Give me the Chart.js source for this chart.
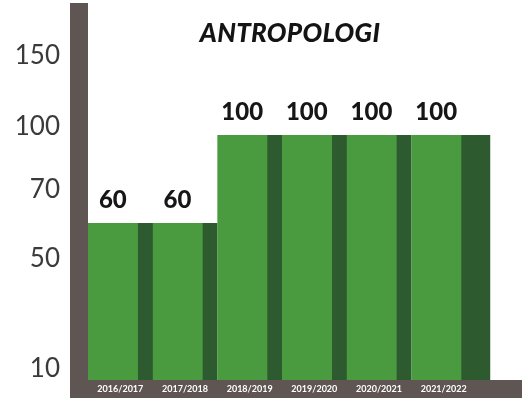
<!DOCTYPE html>
<html><head><meta charset="utf-8">
<script src="https://cdn.jsdelivr.net/npm/chart.js@4.4.1/dist/chart.umd.min.js"></script>
<style>
html,body{margin:0;padding:0;background:#fff;}
#wrap{position:relative;width:522px;height:403px;}
#title{position:absolute;left:190px;width:200px;top:19px;line-height:26px;text-align:center;font-family:Lato,'Open Sans',sans-serif;font-weight:900;font-style:italic;font-size:26px;color:#141414;letter-spacing:0.3px;}
</style></head><body>
<div id="wrap"><canvas id="c" width="522" height="403"></canvas><div id="title">ANTROPOLOGI</div></div>
<script>
// ---- data ----
const categories = ['2016/2017','2017/2018','2018/2019','2019/2020','2020/2021','2021/2022'];
const values = [60, 60, 100, 100, 100, 100];
const yTickLabels = ['150','100','70','50','10'];

// ---- layout / style config ----
const Y_MIN = -11.4, Y_MAX = 160;
const yTickSlots = [136, 104, 75, 44, -6];
const FRAME = '#5f5654';
const GREEN = '#4a9a3f';
const DARK = '#2e5a2f';
const STRIPE = 15;

const framePlugin = {
  id: 'frame',
  beforeDraw(chart) {
    const {ctx, chartArea: a, width} = chart;
    ctx.save();
    ctx.fillStyle = FRAME;
    ctx.fillRect(a.left - 18, 3, 18, 395);
    ctx.fillRect(a.left - 18, a.bottom, width - (a.left - 18), 18);
    ctx.restore();
  },
  afterDatasetsDraw(chart) {
    const {ctx} = chart;
    const meta = chart.getDatasetMeta(0);
    ctx.save();
    const last = meta.data[meta.data.length - 1];
    ctx.fillStyle = DARK;
    ctx.fillRect(last.x + last.width / 2, last.y, last.width * 0.22, last.base - last.y);
    ctx.fillStyle = '#161616';
    ctx.font = '900 24px Lato, "Open Sans", sans-serif';
    ctx.textAlign = 'center';
    ctx.textBaseline = 'alphabetic';
    meta.data.forEach((bar, i) => {
      ctx.fillText(String(values[i]), bar.x - STRIPE / 2, bar.y - 15);
    });
    ctx.restore();
  }
};

new Chart(document.getElementById('c'), {
  type: 'bar',
  data: {
    labels: categories,
    datasets: [{
      data: values,
      backgroundColor: GREEN,
      borderColor: DARK,
      borderWidth: {top: 0, right: STRIPE, bottom: 0, left: 0},
      borderSkipped: false,
      barPercentage: 1,
      categoryPercentage: 1,
      base: Y_MIN
    }]
  },
  options: {
    responsive: false,
    animation: false,
    devicePixelRatio: 1,
    layout: {padding: {top: 3, right: 46, bottom: 0, left: 0}},
    plugins: {legend: {display: false}, tooltip: {enabled: false}, title: {display: false}},
    scales: {
      x: {
        grid: {display: false, drawTicks: false},
        border: {display: false},
        ticks: {color: '#ffffff', font: {family: 'Lato, "Open Sans", sans-serif', size: 9, weight: 'bold'}, padding: 4, maxRotation: 0, autoSkip: false},
        afterFit(axis) { axis.height = 23; axis.paddingLeft = 0; axis.paddingRight = 0; }
      },
      y: {
        min: Y_MIN, max: Y_MAX,
        grid: {display: false, drawTicks: false},
        border: {display: false},
        afterBuildTicks(axis) { axis.ticks = yTickSlots.map(v => ({value: v})); },
        ticks: {
          color: '#3a3a3a',
          font: {family: 'Lato, "Open Sans", sans-serif', size: 26, weight: '400'},
          padding: 28,
          autoSkip: false,
          callback: (v, i) => yTickLabels[i]
        },
        afterFit(axis) { axis.width = 88; axis.paddingTop = 0; axis.paddingBottom = 0; }
      }
    }
  },
  plugins: [framePlugin]
});
</script>
</body></html>
